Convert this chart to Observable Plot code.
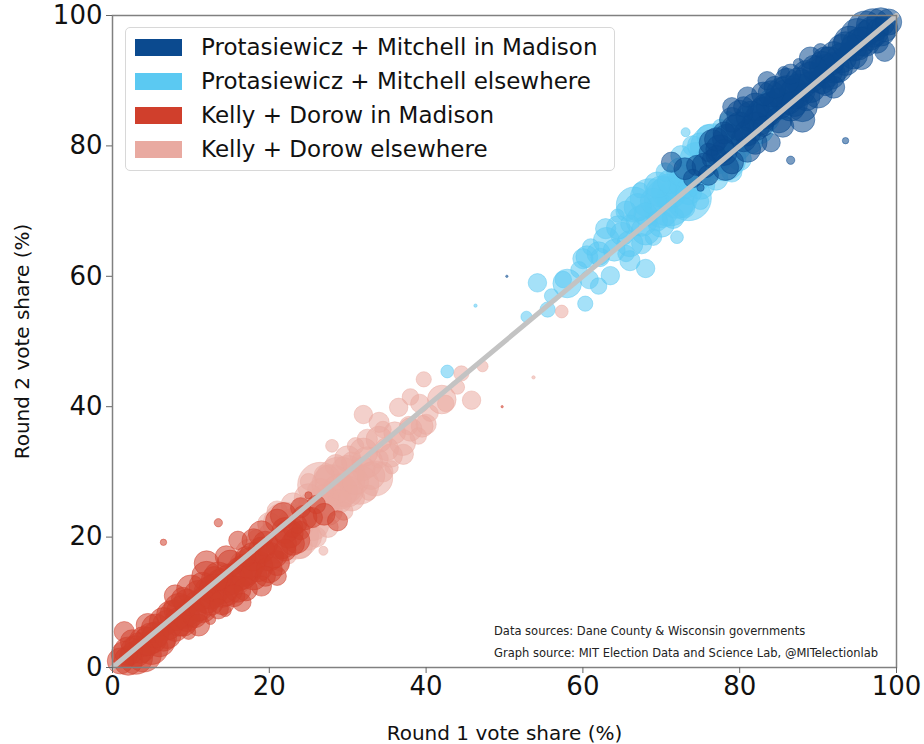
<!DOCTYPE html>
<html><head><meta charset="utf-8">
<script src="https://cdn.jsdelivr.net/npm/d3@7"></script>
<script src="https://cdn.jsdelivr.net/npm/@observablehq/plot@0.6"></script>
<style>
body{margin:0;background:#fff;font-family:"DejaVu Sans",sans-serif;}
#wrap{position:relative;width:924px;height:744px;}
#legend{position:absolute;left:125px;top:27px;width:490px;height:144px;border:1px solid #d8d8d8;border-radius:5px;background:rgba(255,255,255,0.85);box-sizing:border-box;}
.row{position:absolute;left:0;height:34px;display:flex;align-items:center;}
.sw{width:47px;height:17px;margin-left:9px;margin-right:19px;}
.lab{font-size:23px;color:#111;white-space:nowrap;}
#caption{position:absolute;left:494px;top:620px;font-size:11.5px;line-height:22px;color:#222;white-space:nowrap;}
</style></head>
<body><div id="wrap"></div>
<script>
// Series names (legend)
const seriesNames = ["Protasiewicz + Mitchell in Madison","Protasiewicz + Mitchell elsewhere","Kelly + Dorow in Madison","Kelly + Dorow elsewhere"];
const xTicks = [0,20,40,60,80,100];
const yTicks = [0,20,40,60,80,100];
const diagonal = [0,100];

// Madison wards
const madisonProtR1 = [93.5,86.5,50.3,71.3,87.5,85.6,90.3,78.2,75.0,76,77,78,79,80,80.5,81,82,82.5,83,84,84.5,85,85.5,86,86.5,87,87.5,88,88.5,89,89.5,90,90.5,91,91.5,92,92.5,93,93.5,94,94.5,95,95.5,96,96.5,97,98,98.5,97.5,84,88,79,81,92,83,77,74,73,98.5,89,86,91,83.5,76.4,
 75.5,76.5,77.5,78.5,79.5,80,81.5,82,83,84,85,86,87,87.5,88,89,90,90.5,91.5,92,93,93.5,94.5,95,96,97,98,99,82,85.5,78,80.5,88.5,91,95.5,86.5,79,81,83.5,76,74.5];
const madisonProtR2 = [80.8,77.8,60.0,77.5,92.6,91.3,94.6,76.7,73.6,79,81,82,84,83,86,82,86,84,88,86,89,84,88,90,86,88,90,86,91,89,92,88,90,93,91,94,92,95,93,96,95,97,96,98,97,98.5,99,98,96,80.5,84,77.5,79.5,89,83,78.5,75,76.5,94.5,93.5,87.5,91.5,85.5,78,
 77,80.5,79.5,81,82.5,85,84.5,83,85,88,86.5,88.5,86.5,88.5,89.5,90.5,91.5,92.5,93,92,93.5,95.5,94,95.5,96,97.5,97.5,99,80.5,83,79,81,87.5,89.5,93.5,91,86,87.5,90,75.5,77];
const madisonKellyR1 = [6.5,13.5,49.7,28.7,12.5,14.4,9.7,21.8,25.0,24,23,22,21,20,19.5,19,18,17.5,17,16,15.5,15,14.5,14,13.5,13,12.5,12,11.5,11,10.5,10,9.5,9,8.5,8,7.5,7,6.5,6,5.5,5,4.5,4,3.5,3,2,1.5,2.5,16,12,21,19,8,17,23,26,27,1.5,11,14,9,16.5,23.6,
 24.5,23.5,22.5,21.5,20.5,20,18.5,18,17,16,15,14,13,12.5,12,11,10,9.5,8.5,8,7,6.5,5.5,5,4,3,2,1,18,14.5,22,19.5,11.5,9,4.5,13.5,21,19,16.5,24,25.5];
const madisonKellyR2 = [19.2,22.2,40.0,22.5,7.4,8.7,5.4,23.3,26.4,21,19,18,16,17,14,18,14,16,12,14,11,16,12,10,14,12,10,14,9,11,8,12,10,7,9,6,8,5,7,4,5,3,4,2,3,1.5,1,2,4,19.5,16,22.5,20.5,11,17,21.5,25,23.5,5.5,6.5,12.5,8.5,14.5,22,
 23,19.5,20.5,19,17.5,15,15.5,17,15,12,13.5,11.5,13.5,11.5,10.5,9.5,8.5,7.5,7,8,6.5,4.5,6,4.5,4,2.5,2.5,1,19.5,17,21,19,12.5,10.5,6.5,9,14,12.5,10,24.5,23];
const madisonVotes = [30,50,4,300,80,100,150,500,40,250,400,350,450,600,300,500,550,700,400,650,350,500,800,450,600,700,500,650,550,700,450,600,500,600,700,500,650,550,600,700,500,800,600,900,700,800,600,500,400,250,450,400,500,350,300,300,250,350,300,350,900,800,800,250,
 450,500,600,700,650,500,700,600,750,500,700,650,500,800,600,700,650,500,600,700,650,500,600,700,650,700,600,500,400,350,500,450,550,400,400,300,250,300,250,300,300];

// Wards elsewhere in Dane County
const elsewhereProtR1 = [46.3,42.7,73.1,54.2,58.0,52.8,55.5,60.3,60.0,62.2,63.5,66.0,68.0,67.3,64.4,62.9,72.0,76.7,67.0,59.5,61.0,65.0,69.0,70.0,71.0,72.5,
 73.5,74.5,75.5,78.0,79.5,81.0,82.5,84.0,71.5,69.5,68.0,66.0,73.0,56.0,64.0,70.5,74.0,77.5,62.0,75.0,80.0,85.5,83.0,66.5,68.5,72.0,
 70.0,74.0,76.0,63.0,60.5,57.5,78.5,79.0,81.5,67.5,69.0,65.5,71.0,75.0,77.0,
 64.5,66.0,68.0,70.0,71.0,73.0,75.0,77.0,79.0,80.5,82.0,83.5,62.0,60.8,69.5,72.5,76.0,65.5,78.0,73.5,67.5];
const elsewhereProtR2 = [55.5,45.4,82.1,59.0,58.9,53.8,54.9,55.8,62.7,62.9,60.1,62.4,61.2,73.2,69.3,67.3,66.0,79.8,70.6,61.0,64.5,66.5,71.5,73.0,74.5,76.0,
 73.0,78.0,76.0,80.5,80.0,84.0,82.5,87.0,69.0,68.5,69.5,68.0,70.5,57.0,64.0,76.0,80.0,83.0,58.5,71.5,78.0,86.0,86.0,71.0,72.0,72.0,
 70.0,75.5,77.5,65.5,63.0,59.5,84.0,76.0,80.5,65.0,66.0,63.5,71.5,80.0,75.0,
 67.5,65.0,67.0,68.0,73.0,74.5,74.0,78.0,82.0,82.0,84.5,84.0,63.5,59.5,74.0,78.5,81.5,70.0,78.0,72.0,68.5];
const elsewhereKellyR1 = [53.7,57.3,26.9,45.8,42.0,47.2,44.5,39.7,40.0,37.8,36.5,34.0,32.0,32.7,35.6,37.1,28.0,23.3,33.0,40.5,39.0,35.0,31.0,30.0,29.0,27.5,
 26.5,25.5,24.5,22.0,20.5,19.0,17.5,16.0,28.5,30.5,32.0,34.0,27.0,44.0,36.0,29.5,26.0,22.5,38.0,25.0,20.0,14.5,17.0,33.5,31.5,28.0,
 30.0,26.0,24.0,37.0,39.5,42.5,21.5,21.0,18.5,32.5,31.0,34.5,29.0,25.0,23.0,
 35.5,34.0,32.0,30.0,29.0,27.0,25.0,23.0,21.0,19.5,18.0,16.5,38.0,39.2,30.5,27.5,24.0,34.5,22.0,26.5,32.5];
const elsewhereKellyR2 = [44.5,54.6,17.9,41.0,41.1,46.2,45.1,44.2,37.3,37.1,39.9,37.6,38.8,26.8,30.7,32.7,34.0,20.2,29.4,39.0,35.5,33.5,28.5,27.0,25.5,24.0,
 27.0,22.0,24.0,19.5,20.0,16.0,17.5,13.0,31.0,31.5,30.5,32.0,29.5,43.0,36.0,24.0,20.0,17.0,41.5,28.5,22.0,14.0,14.0,29.0,28.0,28.0,
 30.0,24.5,22.5,34.5,37.0,40.5,16.0,24.0,19.5,35.0,34.0,36.5,28.5,20.0,25.0,
 32.5,35.0,33.0,32.0,27.0,25.5,26.0,22.0,18.0,18.0,15.5,16.0,36.5,40.5,26.0,21.5,18.5,30.0,22.0,28.0,31.5];
const elsewhereVotes = [8,120,60,250,600,90,170,170,300,250,250,300,250,170,130,300,120,1600,550,200,200,400,500,700,400,600,
 500,800,600,900,700,500,600,400,350,300,400,250,300,150,350,250,300,150,200,200,400,500,300,900,1100,1200,
 800,1000,700,500,350,200,200,300,350,300,200,200,1800,500,400,
 400,500,600,500,900,800,600,700,500,600,500,400,400,250,500,300,400,300,1400,1500,700];

const colors = ["#0b4a8f","#5bc9f2","#d03f2c","#e9aaa1"];

const rows = (xs, ys, vs) => xs.map((x, i) => ({x, y: ys[i], votes: vs[i]}));
const madProt = rows(madisonProtR1, madisonProtR2, madisonVotes);
const madKelly = rows(madisonKellyR1, madisonKellyR2, madisonVotes);
const elsProt = rows(elsewhereProtR1, elsewhereProtR2, elsewhereVotes);
const elsKelly = rows(elsewhereKellyR1, elsewhereKellyR2, elsewhereVotes);

const dotOpts = c => ({x: "x", y: "y", r: "votes", fill: c, fillOpacity: 0.55, stroke: c, strokeOpacity: 0.6, strokeWidth: 0.8});

const plot = Plot.plot({
  width: 924, height: 744,
  marginLeft: 112, marginRight: 28, marginTop: 15, marginBottom: 77,
  x: {domain: [0, 100]},
  y: {domain: [0, 100]},
  r: {type: "sqrt", domain: [0, 3000], range: [0, 32]},
  style: {fontFamily: "DejaVu Sans", background: "white", color: "#111"},
  marks: [
    Plot.dot(elsProt, dotOpts(colors[1])),
    Plot.dot(elsKelly, dotOpts(colors[3])),
    Plot.dot(madProt, dotOpts(colors[0])),
    Plot.dot(madKelly, dotOpts(colors[2])),
    Plot.line(diagonal, {x: d => d, y: d => d, stroke: "#c3c3c3", strokeWidth: 5}),
    Plot.frame({stroke: "#808080", strokeWidth: 1.5}),
    Plot.axisX({ticks: xTicks, tickSize: 6, tickPadding: 3, fontSize: 26, label: null, stroke: "#666"}),
    Plot.axisY({ticks: yTicks, tickSize: 6, tickPadding: 4, fontSize: 26, label: null, stroke: "#666"}),
    Plot.text(["Round 1 vote share (%)"], {text: d => d, frameAnchor: "bottom", dy: 66, fontSize: 20, lineAnchor: "middle"}),
    Plot.text(["Round 2 vote share (%)"], {text: d => d, frameAnchor: "left", dx: -90, rotate: -90, fontSize: 20, textAnchor: "middle", lineAnchor: "middle"})
  ]
});
const wrap = document.getElementById("wrap");
wrap.appendChild(plot);

const legend = document.createElement("div");
legend.id = "legend";
seriesNames.forEach((name, i) => {
  const row = document.createElement("div");
  row.className = "row";
  row.style.top = (2 + i * 34) + "px";
  const sw = document.createElement("div");
  sw.className = "sw"; sw.style.background = colors[i];
  const lab = document.createElement("div");
  lab.className = "lab"; lab.textContent = name;
  row.appendChild(sw); row.appendChild(lab);
  legend.appendChild(row);
});
wrap.appendChild(legend);

const captionLines = ["Data sources: Dane County & Wisconsin governments","Graph source: MIT Election Data and Science Lab, @MITelectionlab"];
const cap = document.createElement("div");
cap.id = "caption";
cap.innerHTML = captionLines.map(t => "<div>" + t.replace("&", "&amp;") + "</div>").join("");
wrap.appendChild(cap);
</script>
</body></html>
